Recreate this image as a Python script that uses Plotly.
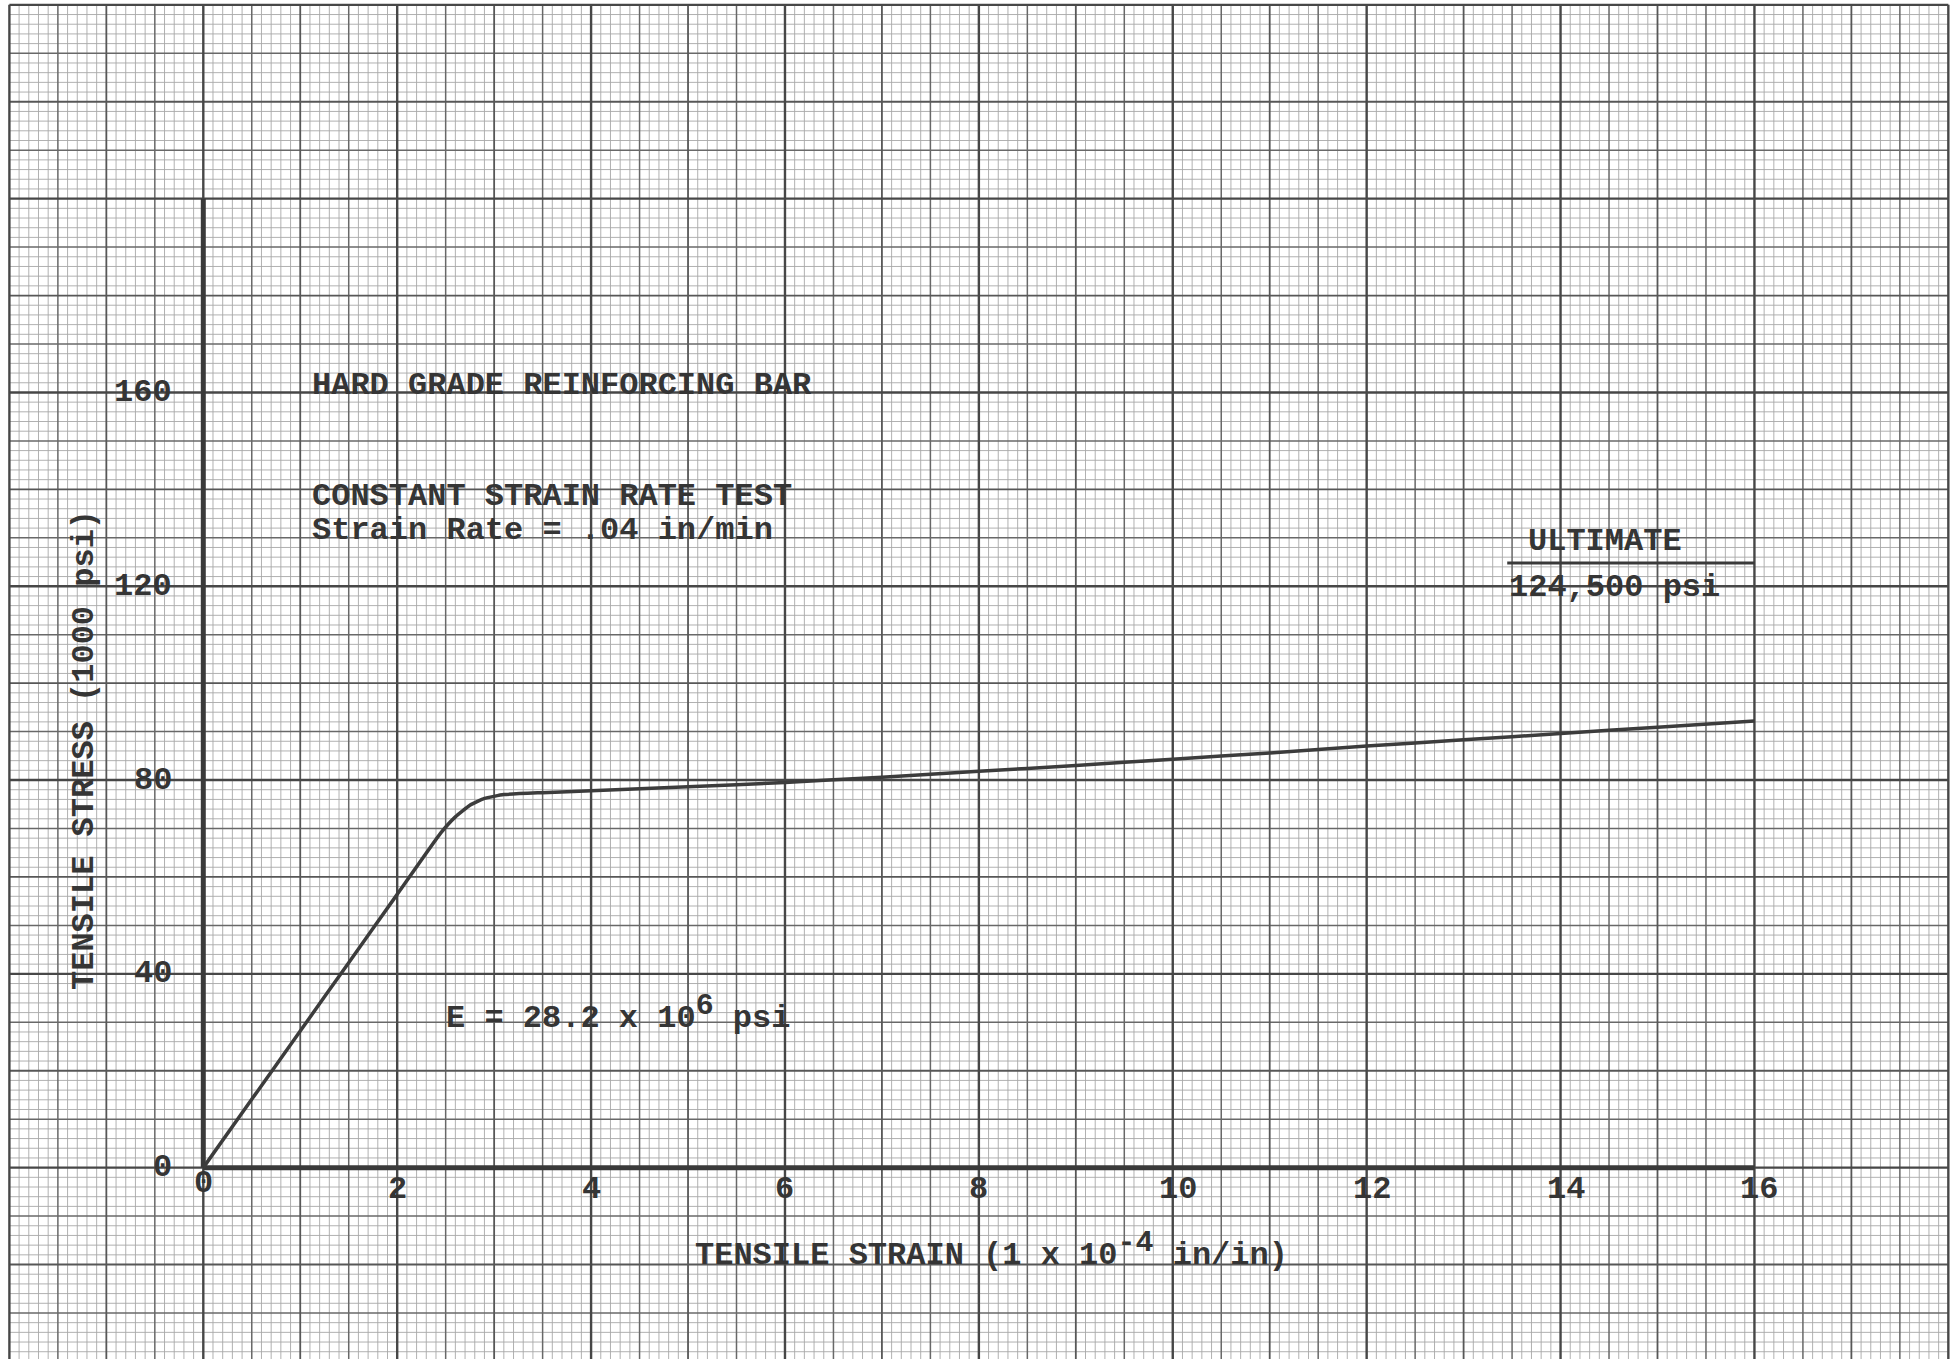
import plotly.graph_objects as go

# ---------------- data ----------------
strain = [0, 0.5, 1.0, 1.5, 2.0, 2.45, 2.6, 2.75, 2.9, 3.1, 3.5, 4, 5, 6, 7, 8, 9, 10, 11, 12, 13, 14, 15, 16]
stress = [0, 14.1, 28.2, 42.3, 56.4, 69.1, 72.4, 74.8, 76.2, 77.0, 77.4, 77.8, 78.6, 79.5, 80.6, 81.8, 83.0, 84.3, 85.6, 87.0, 88.3, 89.6, 90.9, 92.2]

x_tick_vals = [0, 2, 4, 6, 8, 10, 12, 14, 16]
x_tick_labels = ["0", "2", "4", "6", "8", "10", "12", "14", "16"]
y_tick_vals = [0, 40, 80, 120, 160]
y_tick_labels = ["0", "40", "80", "120", "160"]

ultimate_label = "ULTIMATE"
ultimate_value = "124,500 psi"
ultimate_line_x = [13.45, 16.0]
ultimate_line_y = [124.8, 124.8]

# ---------------- layout constants ----------------
W, H = 1959, 1359
X_RANGE = [-2.097, 18.11]
Y_RANGE = [-39.5, 241.0]
PAPER_X = (-2, 18)
PAPER_Y = (-40, 240)
FONT = "Liberation Mono"
INK = "#353535"

fig = go.Figure()


def add_lines(xs_v, ys_h, color, width):
    gx, gy = [], []
    for xv in xs_v:
        gx += [xv, xv, None]
        gy += [PAPER_Y[0], PAPER_Y[1], None]
    for yv in ys_h:
        gx += [PAPER_X[0], PAPER_X[1], None]
        gy += [yv, yv, None]
    fig.add_trace(go.Scatter(x=gx, y=gy, mode="lines",
                             line=dict(color=color, width=width),
                             hoverinfo="skip", showlegend=False))


# graph paper: verticals every 0.1 unit, horizontals every 2 units
levels = {0: [[], []], 1: [[], []], 2: [[], []], 3: [[], []]}
for k in range(0, 201):          # x = -2 + 0.1 k
    xv = PAPER_X[0] + 0.1 * k
    lvl = 3 if k % 20 == 0 else 2 if k % 10 == 0 else 1 if k % 5 == 0 else 0
    levels[lvl][0].append(round(xv, 3))
for k in range(0, 141):          # y = -40 + 2 k
    yv = PAPER_Y[0] + 2 * k
    lvl = 3 if k % 20 == 0 else 2 if k % 10 == 0 else 1 if k % 5 == 0 else 0
    levels[lvl][1].append(yv)

styles = {0: ("#a8a8a8", 0.9), 1: ("#686868", 1.5), 2: ("#575757", 1.8), 3: ("#474747", 2.4)}
for lvl in range(4):
    c, w = styles[lvl]
    add_lines(levels[lvl][0], levels[lvl][1], c, w)

# axes drawn in heavy ink
fig.add_trace(go.Scatter(x=[0, 16], y=[0, 0], mode="lines",
                         line=dict(color="#3a3a3a", width=5), hoverinfo="skip", showlegend=False))
fig.add_trace(go.Scatter(x=[0, 0], y=[0, 200], mode="lines",
                         line=dict(color="#3a3a3a", width=5), hoverinfo="skip", showlegend=False))

# stress-strain curve
fig.add_trace(go.Scatter(x=strain, y=stress, mode="lines",
                         line=dict(color="#3c3c3c", width=3.5, shape="spline", smoothing=0.4),
                         hoverinfo="skip", showlegend=False))

# ultimate underline
fig.add_trace(go.Scatter(x=ultimate_line_x, y=ultimate_line_y, mode="lines",
                         line=dict(color="#3a3a3a", width=3), hoverinfo="skip", showlegend=False))

tfont = dict(family=FONT, size=32, color=INK, weight="bold")
SUP = '<sup><span style="font-size:30px">{}</span></sup>'
ann = []
for v, t in zip(x_tick_vals, x_tick_labels):
    ann.append(dict(x=v, y=-3.3 if v == 0 else -4.5, text=t, showarrow=False,
                    xanchor="center", yanchor="middle", xshift=5 if len(t) > 1 else 0, font=tfont))
for v, t in zip(y_tick_vals, y_tick_labels):
    ann.append(dict(x=-0.3, y=v, text=t, showarrow=False,
                    xanchor="right", yanchor="middle", font=tfont))

ann += [
    dict(x=1.10, y=161.5, text="HARD GRADE REINFORCING BAR", showarrow=False,
         xanchor="left", yanchor="middle", font=tfont),
    dict(x=1.10, y=138.6, text="CONSTANT STRAIN RATE TEST", showarrow=False,
         xanchor="left", yanchor="middle", font=tfont),
    dict(x=1.10, y=131.6, text="Strain Rate = .04 in/min", showarrow=False,
         xanchor="left", yanchor="middle", font=tfont),
    dict(x=13.64, y=129.2, text=ultimate_label, showarrow=False,
         xanchor="left", yanchor="middle", font=tfont),
    dict(x=13.45, y=119.8, text=ultimate_value, showarrow=False,
         xanchor="left", yanchor="middle", font=tfont),
    dict(x=2.48, y=32.0, text="E = 28.2 x 10" + SUP.format("6") + " psi", showarrow=False,
         xanchor="left", yanchor="middle", font=tfont),
    dict(x=5.05, y=-16.9, text="TENSILE STRAIN (1 x 10" + SUP.format("-4") + " in/in)", showarrow=False,
         xanchor="left", yanchor="middle", font=tfont),
    dict(x=-1.22, y=86.2, text="TENSILE STRESS (1000 psi)", showarrow=False, textangle=-90,
         xanchor="center", yanchor="middle", font=tfont),
]

fig.update_layout(
    width=W, height=H,
    margin=dict(l=0, r=0, t=0, b=0),
    paper_bgcolor="white", plot_bgcolor="white",
    xaxis=dict(range=X_RANGE, visible=False, showgrid=False, zeroline=False, fixedrange=True),
    yaxis=dict(range=Y_RANGE, visible=False, showgrid=False, zeroline=False, fixedrange=True),
    annotations=ann,
    showlegend=False,
)

fig.write_html("out.html", config=dict(displayModeBar=False),
               post_script="document.body.style.margin='0';document.body.style.padding='0';")
